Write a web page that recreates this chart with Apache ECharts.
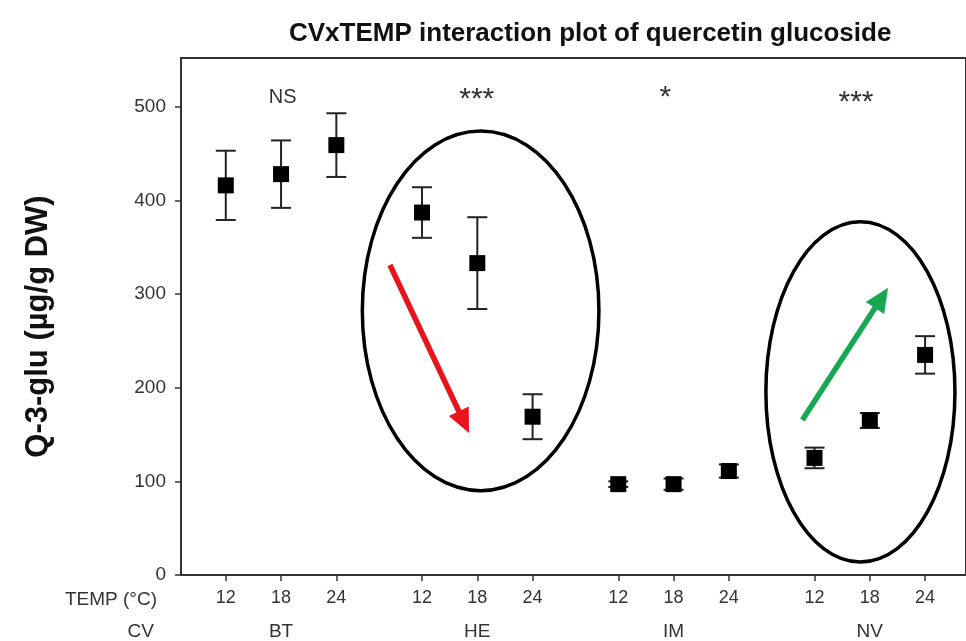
<!DOCTYPE html>
<html>
<head>
<meta charset="utf-8">
<script src="https://cdn.jsdelivr.net/npm/echarts@6/dist/echarts.min.js"></script>
<style>html,body{margin:0;padding:0;background:#fff}#c{width:966px;height:641px}</style>
</head>
<body>
<div id="c"></div>
<script>
// ---- data ----
const groups = ['BT', 'HE', 'IM', 'NV'];
const temps = ['12', '18', '24'];
const btMean = [416, 428, 459];
const heMean = [387, 333, 169];
const imMean = [97, 97, 111];
const nvMean = [125, 165, 235];
const btErr = [37, 36, 34];
const heErr = [27, 49, 24];
const imErr = [3, 6, 7];
const nvErr = [11, 8, 20];
const yTicks = [0, 100, 200, 300, 400, 500];
const sigLabels = ['NS', '***', '*', '***'];

const FONT = 'Liberation Sans, Arial, sans-serif';
const GROUP_STEP = 3.55;
const pos = (g, i) => g * GROUP_STEP + i;
const means = [btMean, heMean, imMean, nvMean];
const errs = [btErr, heErr, imErr, nvErr];

const pts = [];
const xPositions = [];
const xLabelOf = {};
groups.forEach((g, gi) => {
  temps.forEach((t, ti) => {
    const x = pos(gi, ti);
    pts.push([x, means[gi][ti], errs[gi][ti]]);
    xPositions.push(x);
    xLabelOf[x.toFixed(3)] = t;
  });
});
const groupCenters = groups.map((g, gi) => pos(gi, 1));
const groupLabelOf = {};
groupCenters.forEach((x, gi) => { groupLabelOf[x.toFixed(3)] = groups[gi]; });

const chart = echarts.init(document.getElementById('c'));
const xMin = -0.81, xMax = 13.39;

chart.setOption({
  animation: false,
  title: {
    text: 'CVxTEMP interaction plot of quercetin glucoside',
    left: 284, top: 16,
    textStyle: { fontFamily: FONT, fontSize: 26, fontWeight: 'bold', color: '#111' }
  },
  grid: {
    left: 181, right: -3, top: 58, bottom: 66,
    show: true, borderColor: '#333', borderWidth: 2, backgroundColor: 'transparent'
  },
  xAxis: [
    {
      type: 'value', min: xMin, max: xMax, position: 'bottom',
      name: 'TEMP (°C)', nameLocation: 'start', nameGap: 24,
      nameTextStyle: { fontFamily: FONT, fontSize: 19, color: '#333', verticalAlign: 'top', padding: [15, 0, 0, 0] },
      axisLine: { onZero: false, lineStyle: { color: '#333', width: 2 } },
      axisTick: { customValues: xPositions, length: 6, lineStyle: { color: '#333', width: 1.5 } },
      axisLabel: {
        customValues: xPositions, margin: 14,
        fontFamily: FONT, fontSize: 18, color: '#333',
        formatter: v => xLabelOf[Number(v).toFixed(3)] || ''
      },
      splitLine: { show: false }
    },
    {
      type: 'value', min: xMin, max: xMax, position: 'bottom', offset: 32,
      name: 'CV', nameLocation: 'start', nameGap: 27,
      nameTextStyle: { fontFamily: FONT, fontSize: 19, color: '#333', verticalAlign: 'top', padding: [15, 0, 0, 0] },
      axisLine: { show: false, onZero: false },
      axisTick: { show: false },
      axisLabel: {
        customValues: groupCenters, margin: 15,
        fontFamily: FONT, fontSize: 19, color: '#333',
        formatter: v => groupLabelOf[Number(v).toFixed(3)] || ''
      },
      splitLine: { show: false }
    }
  ],
  yAxis: {
    type: 'value', min: 0, max: 552,
    name: 'Q-3-glu (µg/g DW)', nameLocation: 'middle', nameGap: 127,
    nameTextStyle: { fontFamily: FONT, fontSize: 31, fontWeight: 'bold', color: '#111', padding: [0, 20, 0, 0] },
    axisLine: { onZero: false, lineStyle: { color: '#333', width: 2 } },
    axisTick: { customValues: yTicks, length: 6, lineStyle: { color: '#333', width: 1.5 } },
    axisLabel: { customValues: yTicks, margin: 15, fontFamily: FONT, fontSize: 19, color: '#333' },
    splitLine: { show: false }
  },
  series: [
    {
      type: 'custom',
      xAxisIndex: 0,
      data: pts,
      encode: { x: 0, y: 1 },
      z: 2,
      renderItem: (params, api) => {
        const x = api.value(0), m = api.value(1), e = api.value(2);
        const top = api.coord([x, m + e]);
        const bot = api.coord([x, m - e]);
        const hw = 10;
        const st = { stroke: '#222', lineWidth: 2 };
        return {
          type: 'group',
          children: [
            { type: 'line', shape: { x1: top[0], y1: top[1], x2: bot[0], y2: bot[1] }, style: st },
            { type: 'line', shape: { x1: top[0] - hw, y1: top[1], x2: top[0] + hw, y2: top[1] }, style: st },
            { type: 'line', shape: { x1: bot[0] - hw, y1: bot[1], x2: bot[0] + hw, y2: bot[1] }, style: st }
          ]
        };
      }
    },
    {
      type: 'scatter',
      xAxisIndex: 0,
      data: pts.map(p => [p[0], p[1]]),
      symbol: 'rect', symbolSize: 16,
      itemStyle: { color: '#000', opacity: 1 },
      z: 3
    }
  ]
});

// ---- annotations placed through the axes' scales ----
const px = (x, y) => chart.convertToPixel({ xAxisIndex: 0, yAxisIndex: 0 }, [x, y]);
function ellipse(cx, cy, rxU, ryU) {
  const c = px(cx, cy);
  const r = px(cx + rxU, cy + ryU);
  return {
    type: 'ellipse', z: 10,
    shape: { cx: c[0], cy: c[1], rx: Math.abs(r[0] - c[0]), ry: Math.abs(r[1] - c[1]) },
    style: { fill: 'none', stroke: '#000', lineWidth: 3.5 }
  };
}
function arrow(x1, y1, x2, y2, color) {
  const a = px(x1, y1), b = px(x2, y2);
  const dx = b[0] - a[0], dy = b[1] - a[1];
  const L = Math.sqrt(dx * dx + dy * dy);
  const ux = dx / L, uy = dy / L;
  const hl = 24, hw = 11;
  const bx = b[0] - ux * hl, by = b[1] - uy * hl;
  return {
    type: 'group', z: 10,
    children: [
      { type: 'line', shape: { x1: a[0], y1: a[1], x2: bx + ux * 2, y2: by + uy * 2 }, style: { stroke: color, lineWidth: 5.5 } },
      { type: 'polygon', shape: { points: [[b[0], b[1]], [bx - uy * hw, by + ux * hw], [bx + uy * hw, by - ux * hw]] }, style: { fill: color } }
    ]
  };
}
// [x, y, fontSize]
const sigPos = [[1.03, 510, 20], [4.54, 507, 30], [7.95, 510, 30], [11.4, 504, 30]];
const sigTexts = sigLabels.map((s, i) => {
  const p = px(sigPos[i][0], sigPos[i][1]);
  return {
    type: 'text', z: 10, x: p[0], y: p[1],
    style: { text: s, fontFamily: FONT, fontSize: sigPos[i][2], fill: '#333', align: 'center', verticalAlign: 'middle' }
  };
});
chart.setOption({
  graphic: [
    ellipse(4.61, 282, 2.14, 192),
    ellipse(11.48, 195.5, 1.71, 181.6),
    arrow(2.97, 331, 4.40, 151.7, '#e8141c'),
    arrow(10.43, 165.6, 11.98, 306.6, '#18a852'),
    ...sigTexts
  ]
});
</script>
</body>
</html>
